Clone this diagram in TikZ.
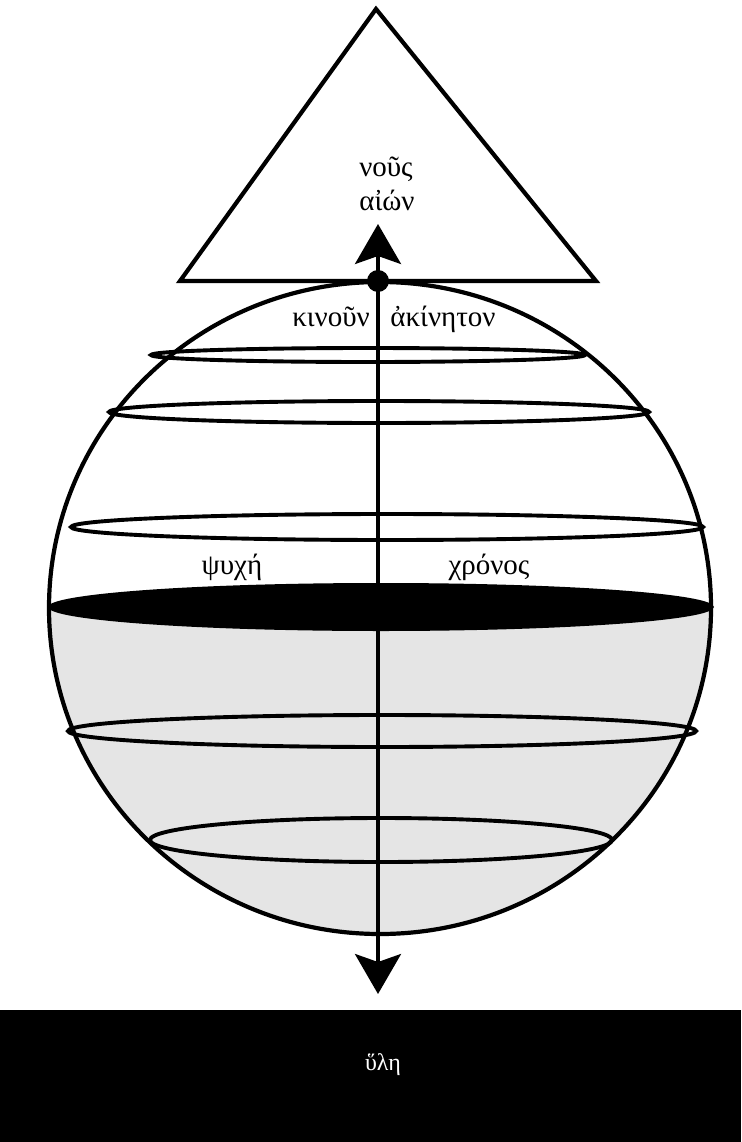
\documentclass[tikz,border=0pt]{standalone}
\usepackage{fontspec}
\setmainfont{Liberation Serif}
\usetikzlibrary{arrows.meta}
\begin{document}
\begin{tikzpicture}[x=1pt,y=-1pt,
  outline/.style={line width=4.2pt},
  ring/.style={line width=3.9pt},
  lbl/.style={font=\fontsize{29}{31}\selectfont, inner sep=0pt, anchor=base},
  axisline/.style={line width=3.6pt, {Stealth[length=40pt,width=46pt,inset=8pt]}-{Stealth[length=40pt,width=46pt,inset=8pt]}}]
\useasboundingbox (0,0) rectangle (741,1142);
% lower hemisphere shading
\begin{scope}
  \clip (0,607) rectangle (741,1000);
  \fill[black!10] (380,608) ellipse [x radius=331, y radius=326];
\end{scope}
% triangle
\draw[outline, line join=miter] (376,9) -- (180,281) -- (596,281) -- cycle;
% sphere
\draw[outline, fill=none] (380,608) ellipse [x radius=331, y radius=326];
% rings
\draw[ring] (368,355) ellipse [x radius=217, y radius=7];
\draw[ring] (379,412) ellipse [x radius=270, y radius=11];
\draw[ring] (387,527) ellipse [x radius=316, y radius=13];
\fill (381,607) ellipse [x radius=333, y radius=24];
\draw[ring] (382,731) ellipse [x radius=314, y radius=16];
\draw[ring] (381,840) ellipse [x radius=231, y radius=22];
% axis
\coordinate (top) at (378,224);
\coordinate (bot) at (378,994);
\draw[axisline] (bot) -- (top);
\node[circle, fill=black, minimum size=22pt, inner sep=0pt] (dot) at (378,281) {};
% labels
\node[lbl] (nous) at (386,177) {νοῦς};
\node[lbl] (aion) at (387,210) {αἰών};
\node[lbl] (kinoun) at (331,326) {κινοῦν};
\node[lbl] (akineton) at (443,326) {ἀκίνητον};
\node[lbl] (psyche) at (232,574) {ψυχή};
\node[lbl] (chronos) at (489,574) {χρόνος};
% matter
\fill (0,1010) rectangle (741,1142);
\node[lbl, text=white, font=\fontsize{24}{26}\selectfont] (hyle) at (383,1070) {ὕλη};
\end{tikzpicture}
\end{document}
